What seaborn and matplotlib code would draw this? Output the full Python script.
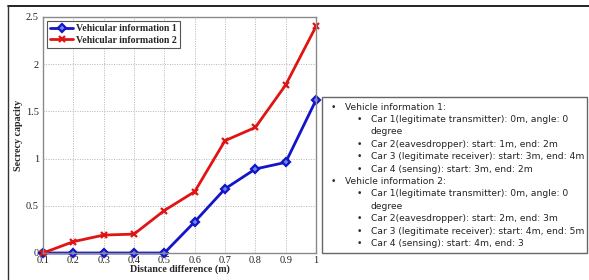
import matplotlib
matplotlib.use('Agg')
import matplotlib.pyplot as plt
from matplotlib.lines import Line2D
from matplotlib.patches import Rectangle
import seaborn as sns
import pandas as pd

distance = [0.1, 0.2, 0.3, 0.4, 0.5, 0.6, 0.7, 0.8, 0.9, 1.0]
info_1 = [0.0, 0.0, 0.0, 0.0, 0.0, 0.33, 0.68, 0.89, 0.96, 1.62]
info_2 = [0.0, 0.12, 0.19, 0.20, 0.45, 0.65, 1.19, 1.33, 1.78, 2.40]
series_names = ['Vehicular information 1', 'Vehicular information 2']
x_ticks = [0.1, 0.2, 0.3, 0.4, 0.5, 0.6, 0.7, 0.8, 0.9, 1.0]
x_tick_labels = ['0.1', '0.2', '0.3', '0.4', '0.5', '0.6', '0.7', '0.8', '0.9', '1']
y_ticks = [0, 0.5, 1, 1.5, 2, 2.5]
y_tick_labels = ['0', '0.5', '1', '1.5', '2', '2.5']

# notes shown in the box on the right: (level, text)
notes = [
    (0, 'Vehicle information 1:'),
    (1, 'Car 1(legitimate transmitter): 0m, angle: 0'),
    (2, 'degree'),
    (1, 'Car 2(eavesdropper): start: 1m, end: 2m'),
    (1, 'Car 3 (legitimate receiver): start: 3m, end: 4m'),
    (1, 'Car 4 (sensing): start: 3m, end: 2m'),
    (0, 'Vehicle information 2:'),
    (1, 'Car 1(legitimate transmitter): 0m, angle: 0'),
    (2, 'degree'),
    (1, 'Car 2(eavesdropper): start: 2m, end: 3m'),
    (1, 'Car 3 (legitimate receiver): start: 4m, end: 5m'),
    (1, 'Car 4 (sensing): start: 4m, end: 3'),
]

df = pd.DataFrame({
    'Distance': distance * 2,
    'Capacity': info_1 + info_2,
    'Series': [series_names[0]] * len(distance) + [series_names[1]] * len(distance),
})

sns.set_style("whitegrid")
plt.rcParams['font.family'] = ['Liberation Serif', 'DejaVu Serif']

W, H = 589, 280
fig = plt.figure(figsize=(W / 100, H / 100), dpi=100)
ax = fig.add_axes([43 / W, 1 - 253 / H, (316 - 43) / W, (253 - 17) / H])

colors = {series_names[0]: '#1414c8', series_names[1]: '#e01414'}
face = {series_names[0]: '#6a86e6', series_names[1]: '#e01414'}
marks = {series_names[0]: 'D', series_names[1]: 'x'}
sizes = {series_names[0]: 4.5, series_names[1]: 5}

sns.lineplot(data=df, x='Distance', y='Capacity', hue='Series',
             palette=colors, linewidth=2, ax=ax, legend=False)
for line, name in zip(ax.lines, series_names):
    line.set_marker(marks[name])
    line.set_markersize(sizes[name])
    line.set_markeredgecolor(colors[name])
    line.set_markerfacecolor(face[name])
    line.set_markeredgewidth(1.6)
    line.set_clip_on(False)

ax.set_xlim(0.1, 1.0)
ax.set_ylim(0, 2.5)
ax.set_xticks(x_ticks)
ax.set_xticklabels(x_tick_labels)
ax.set_yticks(y_ticks)
ax.set_yticklabels(y_tick_labels)
ax.tick_params(labelsize=7.5, direction='in', length=2, colors='#222222')
ax.tick_params(axis='x', pad=2)
ax.tick_params(axis='y', pad=3)
ax.grid(True, linestyle=(0, (1, 1.5)), color='#b4b4b4', linewidth=0.7)
for sp in ax.spines.values():
    sp.set_color('#8a8a8a')
    sp.set_linewidth(1)
ax.set_xlabel('Distance difference (m)', fontsize=7.2, fontweight='bold', labelpad=0)
ax.set_ylabel('Secrecy capacity', fontsize=7.2, fontweight='bold', labelpad=2)

handles = [Line2D([], [], color=colors[n], marker=marks[n], lw=2, markersize=sizes[n],
                  markeredgecolor=colors[n], markerfacecolor=face[n], markeredgewidth=1.6)
           for n in series_names]
leg = ax.legend(handles, series_names, loc='upper left',
                prop={'weight': 'bold', 'size': 7.1}, fancybox=False, framealpha=1,
                edgecolor='#555555', borderpad=0.35, handlelength=2.3,
                handletextpad=0.3, labelspacing=0.25, borderaxespad=0.4)
leg.get_frame().set_linewidth(0.8)

# outer frame (partially visible top and left edges)
fig.add_artist(Line2D([8 / W, 1], [1 - 6 / H, 1 - 6 / H], color='#111111', lw=1.3))
fig.add_artist(Line2D([8 / W, 8 / W], [0, 1 - 6 / H], color='#333333', lw=1.0))

# notes box
fig.add_artist(Rectangle((322 / W, 1 - 253 / H), (587 - 322) / W, (253 - 97) / H,
                         transform=fig.transFigure, facecolor='white',
                         edgecolor='#666666', lw=1))
y0, dy = 107, 12.4
for i, (level, txt) in enumerate(notes):
    y = 1 - (y0 + i * dy) / H
    if level == 0:
        fig.text(331 / W, y, '\u2022', fontsize=6.5, va='center', family='DejaVu Sans')
        fig.text(345 / W, y, txt, fontsize=6.6, va='center', family='DejaVu Sans', color='#222222')
    else:
        if level == 1:
            fig.text(357 / W, y, '\u2022', fontsize=6.5, va='center', family='DejaVu Sans')
        fig.text(371 / W, y, txt, fontsize=6.6, va='center', family='DejaVu Sans', color='#222222')

fig.savefig('out.png', dpi=100, facecolor='white')
